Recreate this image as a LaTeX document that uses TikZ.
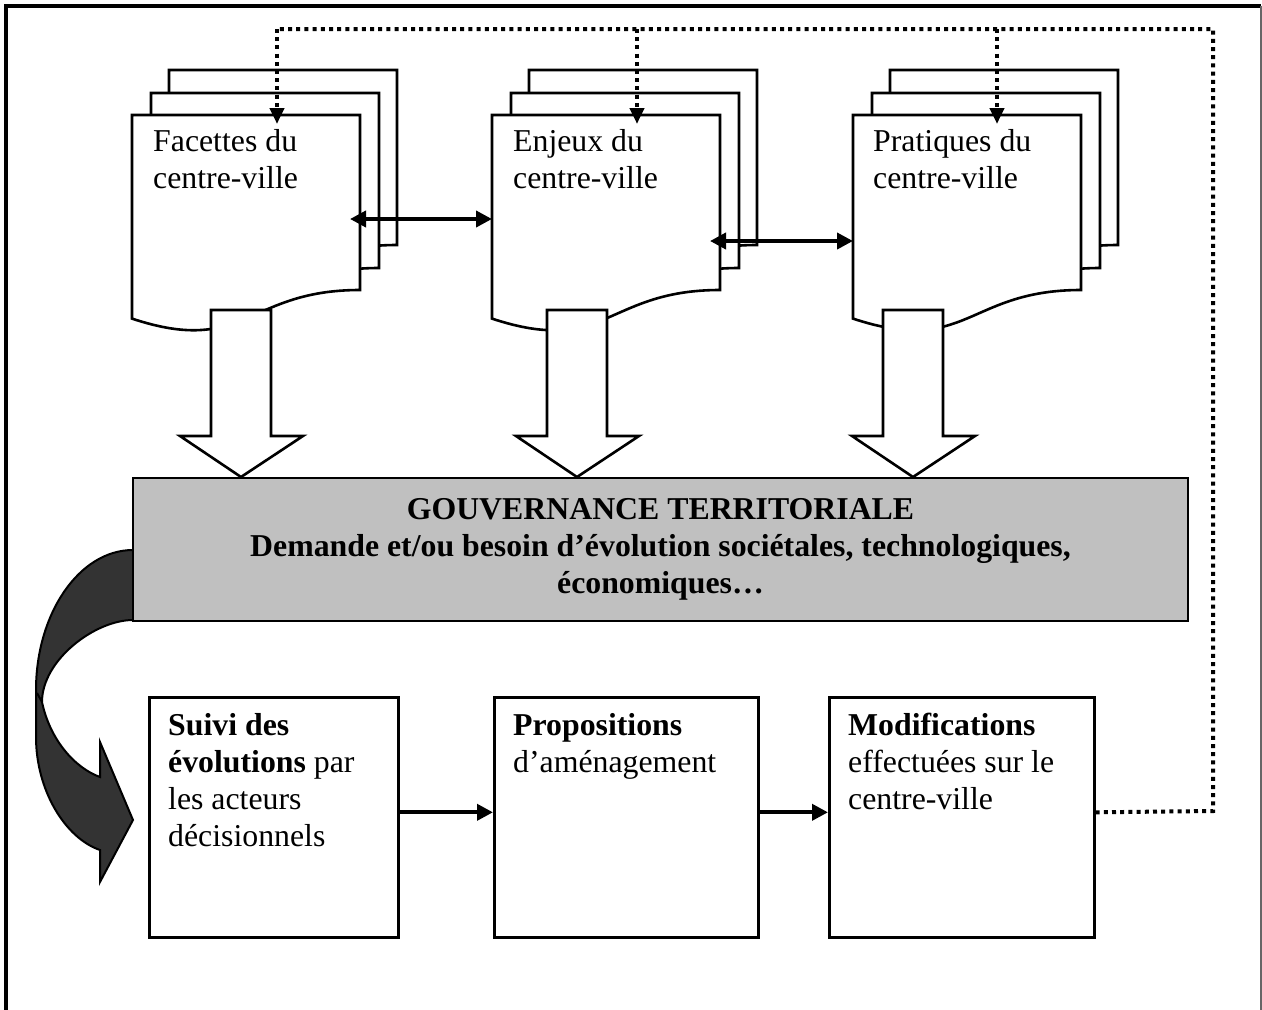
\documentclass[tikz,border=0pt]{standalone}
\usepackage{fontspec}
\setmainfont{Liberation Serif}
\usetikzlibrary{arrows.meta}
\definecolor{govgray}{HTML}{C0C0C0}
\definecolor{curvefill}{HTML}{333333}
\tikzset{
  outline/.style={draw=black, line width=2.6pt, line join=miter},
  pagebox/.style={outline, fill=white},
  txt/.style={font=\fontsize{31.8}{37}\selectfont, align=left, inner sep=0pt, anchor=north west},
  stepbox/.style={outline, fill=white, rectangle, inner sep=0pt, anchor=north west, minimum height=240pt},
  govbox/.style={outline, fill=govgray, rectangle, inner sep=0pt, minimum width=1055pt, minimum height=143pt, font=\fontsize{31.8}{37}\selectfont\bfseries, align=center},
  fatarrow/.style={outline, fill=white},
  linkarrow/.style={line width=3.8pt, -{Triangle[length=16pt,width=16pt]}},
  bothways/.style={line width=3.8pt, {Triangle[length=16pt,width=16pt]}-{Triangle[length=16pt,width=16pt]}},
  feedback/.style={line width=4pt, dash pattern=on 4pt off 4.2pt},
  feedarrow/.style={feedback, -{Triangle[length=16pt,width=14pt]}},
  docshape/.pic={\draw[pagebox] (0,0) -- (228,0) -- (228,175) .. controls (114,175) and (114,241.4) .. (0,203.6) -- cycle;}
}
\begin{document}
\begin{tikzpicture}[x=1pt,y=-1pt]
\useasboundingbox (0,0) rectangle (1262,1010);
% outer frame
\draw[line width=3.5pt] (6,1012) -- (6,6) -- (1261,6);
\draw[line width=1.5pt, black!60] (1261,6) -- (1261,1012);
% multi-documents
\foreach \L in {132,492,853} {
  \pic at (\L+37,70) {docshape};
  \pic at (\L+19,93) {docshape};
  \pic at (\L,115) {docshape};
}
\node[txt] (facT) at (153,129) {Facettes du\\centre-ville};
\node[txt] (enjT) at (513,129) {Enjeux du\\centre-ville};
\node[txt] (praT) at (873,129) {Pratiques du\\centre-ville};
\coordinate (facTop) at (277,124);
\coordinate (enjTop) at (637,124);
\coordinate (praTop) at (997,124);
% two-way arrows between documents
\coordinate (facR) at (350,219);
\coordinate (enjL) at (492,219);
\coordinate (enjR) at (710,241);
\coordinate (praL) at (853,241);
\draw[bothways] (facR) -- (enjL);
\draw[bothways] (enjR) -- (praL);
% fat down arrows
\foreach \c in {241,577,913}
  \draw[fatarrow] (\c-30,310) -- (\c+30,310) -- (\c+30,436) -- (\c+62,436) -- (\c,477) -- (\c-61,436) -- (\c-30,436) -- cycle;
% curved arrow
\draw[outline, line width=2pt, fill=curvefill] (133,550) .. controls (79,550) and (36,614) .. (36,690) -- (36,737)
  .. controls (36,790) and (65,838) .. (100,850) -- (100,882) -- (133,820) -- (100,742) -- (100,777)
  .. controls (75,768) and (50,740) .. (42,702) .. controls (42,660) and (95,620) .. (133,620) -- cycle;
\draw[outline, line width=2pt] (42,702) -- (37,693);
% governance box
\node[govbox] (gov) at (660.5,549.5) {GOUVERNANCE TERRITORIALE\\Demande et/ou besoin d’évolution sociétales, technologiques,\\économiques…};
% bottom steps
\node[stepbox, minimum width=249pt] (s1) at (148,696) {};
\node[stepbox, minimum width=264pt] (s2) at (493,696) {};
\node[stepbox, minimum width=265pt] (s3) at (828,696) {};
\node[txt] (s1t) at (168,713) {\textbf{Suivi des}\\\textbf{évolutions} par\\les acteurs\\décisionnels};
\node[txt] (s2t) at (513,713) {\textbf{Propositions}\\d’aménagement};
\node[txt] (s3t) at (848,713) {\textbf{Modifications}\\effectuées sur le\\centre-ville};
\draw[linkarrow] ([yshift=5pt]s1.east) -- ([yshift=5pt]s2.west);
\draw[linkarrow] ([yshift=5pt]s2.east) -- ([yshift=5pt]s3.west);
% feedback dotted loop
\coordinate (fbA) at (1213,811);
\coordinate (fbB) at (1213,29);
\coordinate (fbC) at (277,29);
\coordinate (fbD) at (637,29);
\coordinate (fbE) at (997,29);
\draw[feedback] ([yshift=5pt]s3.east) -- (fbA) -- (fbB) -- (fbC);
\draw[feedarrow] (fbC) -- (facTop);
\draw[feedarrow] (fbD) -- (enjTop);
\draw[feedarrow] (fbE) -- (praTop);
\end{tikzpicture}
\end{document}
